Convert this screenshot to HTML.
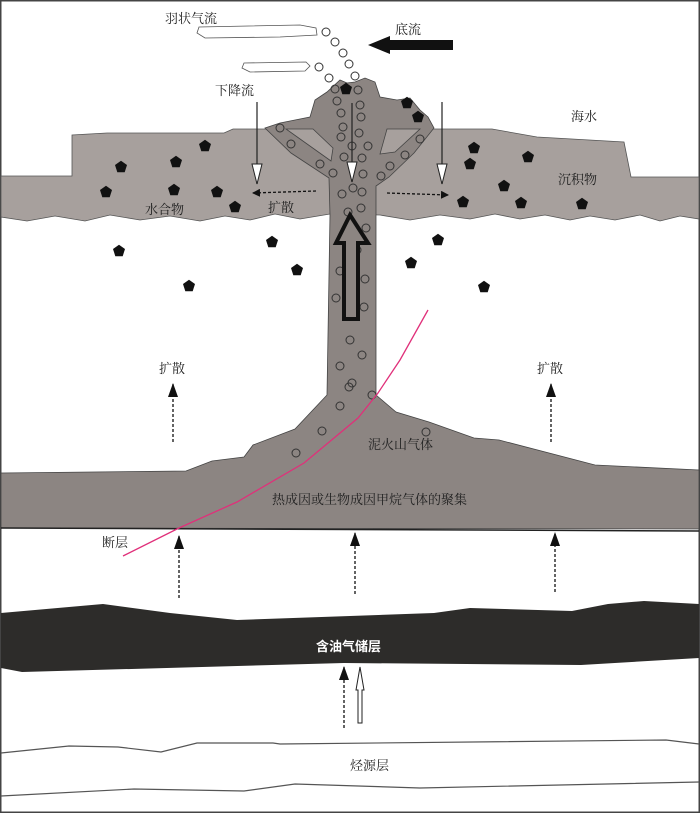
<!DOCTYPE html>
<html><head><meta charset="utf-8"><style>
html,body{margin:0;padding:0;background:#fff}
svg{display:block}
text{font-family:"Liberation Serif","Noto Serif CJK SC","Noto Sans CJK SC",serif;font-size:13px;fill:#222}
</style></head><body>
<svg width="700" height="813" viewBox="0 0 700 813" xmlns="http://www.w3.org/2000/svg">
<defs>
<marker id="ah" markerWidth="8" markerHeight="8" refX="7" refY="4" orient="auto" markerUnits="userSpaceOnUse">
<path d="M0,0 L8,4 L0,8 Z" fill="#111"/></marker>
<marker id="ahb" markerWidth="14" markerHeight="10" refX="13" refY="5" orient="auto" markerUnits="userSpaceOnUse">
<path d="M0,0 L14,5 L0,10 Z" fill="#111"/></marker>
<marker id="hh" markerWidth="22" markerHeight="12" refX="21" refY="6" orient="auto" markerUnits="userSpaceOnUse">
<path d="M1,1 L21,6 L1,11 Z" fill="#fff" stroke="#222" stroke-width="1"/></marker>
<g id="pg"><path d="M0,-6.3 L6,-2 L3.7,5.2 L-3.7,5.2 L-6,-2 Z" fill="#111"/></g>
</defs>
<rect x="0.5" y="0.5" width="699" height="812" fill="#fff" stroke="#444" stroke-width="2"/>

<path d="M1,176 L72,176 L72,135 L107,133 L224,133 L233,129 L492,129 L537,137 L624,142 L631,177 L699,177 L699,219 L680,216 L660,221 L640,215 L615,220 L590,216 L570,220 L545,215 L520,219 L495,214 L470,219 L440,215 L410,220 L380,215 L330,214 L300,219 L275,214 L250,220 L225,216 L200,221 L170,216 L140,220 L110,215 L85,221 L55,216 L27,221 L1,217 Z" fill="#a7a09d" stroke="#555" stroke-width="0.8"/>

<path d="M265,128 L280,123 L310,117 L315,100 L327,92 L340,80 L347,83 L355,82 L365,78 L375,82 L380,97 L397,100 L410,98 L420,110 L428,117 L434,128 L414,153 L389,177 L376,186 L376,395 L396,412 L429,422 L474,438 L499,440 L595,465 L699,470 L699,529 L1,528 L1,473 L186,471 L212,461 L244,457 L253,445 L295,429 L327,395 L330,215 L329,178 L291,153 Z" fill="#8c8582" stroke="#444" stroke-width="0.8"/>
<path d="M286,129 L313,129 L333,148 L331,161 Z" fill="#a7a09d" stroke="#444" stroke-width="0.8"/>
<path d="M387,129 L420,129 L395,152 L380,154 Z" fill="#a7a09d" stroke="#444" stroke-width="0.8"/>
<line x1="1" y1="528" x2="699" y2="531" stroke="#222" stroke-width="1.5"/>

<path d="M1,613 L103,604 L170,613 L237,620 L434,613 L470,608 L572,611 L608,604 L644,601 L699,604 L699,658 L581,665 L344,663 L22,672 L1,668 Z" fill="#2d2c2a"/>
<polyline points="1,753 69,746 118,747 161,752 197,743 273,743 280,744 666,740 699,744" fill="none" stroke="#555" stroke-width="1.2"/>
<polyline points="1,796 134,789 244,791 295,784 420,788 699,782" fill="none" stroke="#555" stroke-width="1.2"/>

<path d="M199,27 L300,25 L316,28 L317,35 L280,37 L205,38 L197,33 Z" fill="#fff" stroke="#555" stroke-width="0.8"/>
<path d="M244,63 L306,62 L310,66 L305,71 L250,72 L242,68 Z" fill="#fff" stroke="#555" stroke-width="0.8"/>
<path d="M453,40 L390,40 L390,36 L368,45 L390,54 L390,50 L453,50 Z" fill="#111"/>

<g fill="none" stroke="#333" stroke-width="1">
<circle cx="326" cy="32" r="4"/><circle cx="335" cy="42" r="4"/><circle cx="343" cy="53" r="4"/><circle cx="349" cy="64" r="4"/><circle cx="355" cy="76" r="4"/><circle cx="319" cy="67" r="4"/><circle cx="329" cy="78" r="4"/>
<circle cx="335" cy="89" r="4"/><circle cx="358" cy="90" r="4"/><circle cx="337" cy="101" r="4"/><circle cx="360" cy="105" r="4"/><circle cx="341" cy="113" r="4"/><circle cx="361" cy="117" r="4"/><circle cx="343" cy="127" r="4"/><circle cx="359" cy="133" r="4"/><circle cx="341" cy="137" r="4"/><circle cx="352" cy="146" r="4"/><circle cx="368" cy="146" r="4"/><circle cx="344" cy="157" r="4"/><circle cx="362" cy="158" r="4"/>
<circle cx="280" cy="128" r="4"/><circle cx="291" cy="144" r="4"/><circle cx="320" cy="164" r="4"/><circle cx="333" cy="173" r="4"/>
<circle cx="420" cy="139" r="4"/><circle cx="405" cy="155" r="4"/><circle cx="390" cy="166" r="4"/><circle cx="381" cy="176" r="4"/><circle cx="363" cy="174" r="4"/>
<circle cx="353" cy="188" r="4"/><circle cx="362" cy="192" r="4"/><circle cx="342" cy="194" r="4"/><circle cx="361" cy="208" r="4"/><circle cx="348" cy="212" r="4"/><circle cx="366" cy="228" r="4"/>
<circle cx="357" cy="250" r="4"/><circle cx="340" cy="271" r="4"/><circle cx="365" cy="279" r="4"/><circle cx="336" cy="298" r="4"/><circle cx="364" cy="307" r="4"/>
<circle cx="350" cy="340" r="4"/><circle cx="362" cy="355" r="4"/><circle cx="340" cy="366" r="4"/><circle cx="352" cy="383" r="4"/>
<circle cx="349" cy="387" r="4"/><circle cx="372" cy="395" r="4"/><circle cx="340" cy="406" r="4"/><circle cx="322" cy="431" r="4"/><circle cx="296" cy="453" r="4"/><circle cx="426" cy="432" r="4"/>
</g>

<path d="M350,215 L368,243 L358,243 L358,319 L344,319 L344,243 L336,243 Z" fill="#8c8582" stroke="#111" stroke-width="4" stroke-linejoin="miter"/>

<g>
<use href="#pg" x="205" y="146"/><use href="#pg" x="176" y="162"/><use href="#pg" x="121" y="167"/><use href="#pg" x="217" y="192"/><use href="#pg" x="106" y="192"/><use href="#pg" x="174" y="190"/><use href="#pg" x="235" y="207"/><use href="#pg" x="272" y="242"/><use href="#pg" x="119" y="251"/><use href="#pg" x="189" y="286"/><use href="#pg" x="297" y="270"/><use href="#pg" x="346" y="89"/><use href="#pg" x="407" y="103"/><use href="#pg" x="418" y="117"/><use href="#pg" x="474" y="148"/><use href="#pg" x="528" y="157"/><use href="#pg" x="470" y="164"/><use href="#pg" x="504" y="186"/><use href="#pg" x="582" y="204"/><use href="#pg" x="463" y="202"/><use href="#pg" x="521" y="203"/><use href="#pg" x="438" y="240"/><use href="#pg" x="411" y="263"/><use href="#pg" x="484" y="287"/>
</g>

<g stroke="#222" stroke-width="1.2">
<line x1="257" y1="102" x2="257" y2="184" marker-end="url(#hh)"/>
<line x1="352" y1="103" x2="352" y2="182" marker-end="url(#hh)"/>
<line x1="442" y1="102" x2="442" y2="184" marker-end="url(#hh)"/>
</g>
<g stroke="#111" stroke-width="1.3" stroke-dasharray="3,2">
<line x1="316" y1="191" x2="253" y2="193" marker-end="url(#ah)"/>
<line x1="387" y1="193" x2="448" y2="195" marker-end="url(#ah)"/>
<line x1="173" y1="442" x2="173" y2="384" marker-end="url(#ahb)"/>
<line x1="551" y1="442" x2="551" y2="384" marker-end="url(#ahb)"/>
<line x1="179" y1="598" x2="179" y2="536" marker-end="url(#ahb)"/>
<line x1="355" y1="594" x2="355" y2="533" marker-end="url(#ahb)"/>
<line x1="555" y1="592" x2="555" y2="533" marker-end="url(#ahb)"/>
<line x1="344" y1="728" x2="344" y2="667" marker-end="url(#ahb)"/>
</g>
<path d="M360,667 L364,690 L362,690 L362,723 L358,723 L358,690 L356,690 Z" fill="#fff" stroke="#222" stroke-width="1"/>

<polyline points="123,556 179,528 237,502 304,463 358,418 378,393 400,360 428,310" fill="none" stroke="#e0307a" stroke-width="1.3"/>

<text x="165" y="23">羽状气流</text>
<text x="395" y="34">底流</text>
<text x="215" y="95">下降流</text>
<text x="571" y="121">海水</text>
<text x="558" y="184">沉积物</text>
<text x="145" y="214">水合物</text>
<text x="268" y="212">扩散</text>
<text x="159" y="373">扩散</text>
<text x="537" y="373">扩散</text>
<text x="368" y="449">泥火山气体</text>
<text x="272" y="504">热成因或生物成因甲烷气体的聚集</text>
<text x="102" y="547">断层</text>
<text x="316" y="651" style="fill:#fff;font-weight:bold;font-family:'Noto Sans CJK SC',sans-serif;font-size:13px">含油气储层</text>
<text x="350" y="770">烃源层</text>
</svg>
</body></html>
